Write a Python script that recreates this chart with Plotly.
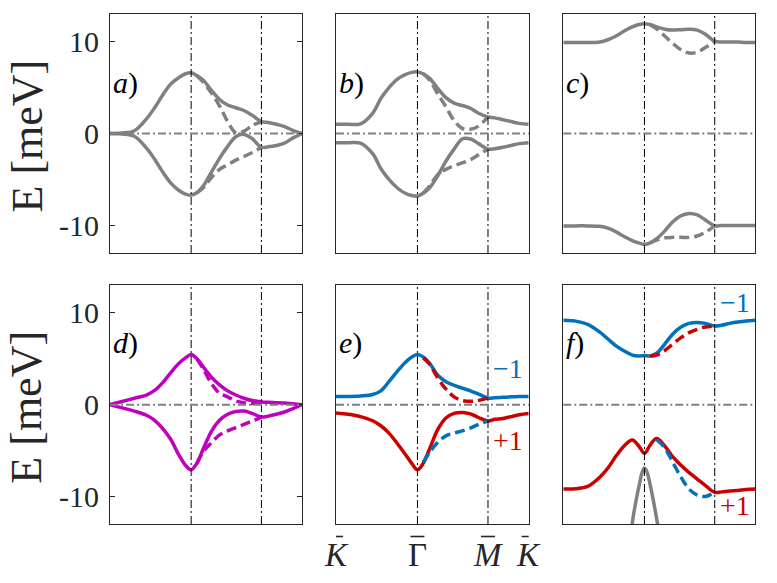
import plotly.graph_objects as go

# path K - Gamma - M - K, in units of |Gamma K|
X_FULL = [0.0, 0.15, 0.3, 0.45, 0.55, 0.65, 0.75, 0.85, 0.93, 1.0, 1.07, 1.15,
          1.25, 1.35, 1.45, 1.55, 1.65, 1.75, 1.866, 1.95, 2.05, 2.15, 2.25, 2.366]
X_GM = [1.07, 1.15, 1.25, 1.35, 1.45, 1.55, 1.65, 1.75, 1.866]
X_PAR = [0.82, 0.86, 0.9, 0.94, 0.97, 1.0, 1.03, 1.06, 1.1, 1.14, 1.18]
HS_X = [0.0, 1.0, 1.866, 2.366]
HS_LABELS = ["<i>K</i>", "Γ", "<i>M</i>", "<i>K</i>"]
Y_TICKS = [-10, 0, 10]
Y_TICKTEXT = ["-10", "0", "10"]

# a)
A_UP = [0, 0.05, 0.3, 1.6, 2.8, 4.2, 5.4, 6.1, 6.5, 6.6, 6.3, 5.8,
        4.7, 3.7, 3.1, 2.8, 2.5, 2.0, 1.3, 1.2, 1.0, 0.75, 0.35, 0]
A_DN = [0, -0.05, -0.3, -1.6, -2.8, -4.2, -5.4, -6.2, -6.6, -6.7, -6.45, -5.7,
        -4.2, -2.7, -1.4, -0.35, -0.1, -0.55, -1.5, -1.45, -1.3, -1.05, -0.5, 0]
A_UPD = [6.3, 5.6, 4.4, 3.0, 1.3, 0.1, 0.25, 0.85, 1.3]
A_DND = [-6.45, -5.9, -4.8, -3.9, -3.4, -2.9, -2.5, -2.1, -1.5]

# b)
B_UP = [1.0, 1.0, 1.05, 2.2, 3.8, 5.0, 5.9, 6.4, 6.65, 6.7, 6.5, 6.0,
        4.9, 3.9, 3.3, 3.05, 2.75, 2.2, 1.8, 1.7, 1.5, 1.3, 1.1, 1.0]
B_DN = [-1.0, -1.0, -1.05, -2.2, -3.8, -5.0, -5.9, -6.5, -6.75, -6.8, -6.5, -5.9,
        -4.6, -3.0, -1.7, -0.6, -0.6, -1.1, -1.7, -1.65, -1.5, -1.3, -1.1, -1.0]
B_UPD = [6.5, 5.8, 4.3, 2.9, 1.4, 0.55, 0.45, 0.8, 1.8]
B_DND = [-6.5, -5.7, -4.45, -3.9, -3.5, -3.2, -2.85, -2.3, -1.7]

# c)
C_UP = [9.9, 9.9, 9.9, 9.95, 10.2, 10.6, 11.15, 11.6, 11.85, 11.95, 11.85, 11.6,
        11.35, 11.25, 11.3, 11.35, 11.25, 10.8, 10.05, 9.95, 9.95, 9.95, 9.9, 9.9]
C_DN = [-10.05, -10.05, -10.05, -10.1, -10.3, -10.7, -11.2, -11.65, -11.9, -12.05, -11.9, -11.45,
        -10.6, -9.6, -8.95, -8.7, -8.85, -9.4, -10.05, -10.0, -10.0, -10.0, -10.0, -10.0]
C_UPD = [11.8, 11.4, 10.6, 9.8, 9.1, 8.75, 8.85, 9.35, 10.05]
C_DND = [-11.9, -11.6, -11.35, -11.3, -11.3, -11.3, -11.15, -10.75, -10.05]

# d)
D_UP = [0, 0.35, 0.7, 1.05, 1.55, 2.4, 3.5, 4.5, 5.1, 5.45, 5.0, 4.1,
        3.0, 2.15, 1.5, 1.05, 0.7, 0.45, 0.3, 0.25, 0.22, 0.18, 0.1, 0]
D_DN = [0, -0.35, -0.7, -1.15, -1.7, -2.6, -3.8, -5.5, -6.6, -7.1, -6.4, -4.8,
        -2.9, -1.7, -1.05, -0.75, -0.7, -0.95, -1.35, -1.25, -1.05, -0.8, -0.45, 0]
D_UPD = [5.0, 3.9, 2.3, 1.25, 0.85, 0.4, 0.2, 0.12, 0.2]
D_DND = [-6.4, -5.1, -4.15, -3.3, -2.85, -2.5, -2.15, -1.8, -1.35]

# e)
E_UP = [0.9, 0.9, 0.95, 1.1, 1.5, 2.5, 3.6, 4.6, 5.2, 5.45, 5.2, 4.5,
        3.2, 2.5, 2.1, 1.8, 1.5, 1.15, 0.72, 0.75, 0.8, 0.85, 0.88, 0.9]
E_DN = [-0.9, -1.05, -1.3, -1.75, -2.3, -3.1, -4.2, -5.4, -6.4, -7.1, -6.4, -4.8,
        -2.7, -1.45, -0.95, -0.85, -1.0, -1.4, -1.77, -1.6, -1.5, -1.3, -1.1, -0.97]
E_UPD = [5.1, 4.4, 2.9, 1.7, 0.85, 0.45, 0.36, 0.45, 0.72]
E_DND = [-6.3, -5.2, -4.1, -3.4, -3.1, -2.85, -2.55, -2.15, -1.77]

# f)
F_UP = [9.2, 9.1, 8.75, 7.9, 7.15, 6.4, 5.85, 5.4, 5.3, 5.35, 5.3, 5.6,
        6.6, 7.7, 8.45, 8.85, 8.95, 8.85, 8.57, 8.65, 8.85, 9.0, 9.1, 9.2]
F_DN = [-9.2, -9.15, -8.9, -7.9, -6.9, -5.6, -4.5, -3.85, -4.5, -5.3, -4.4, -3.7,
        -4.5, -5.7, -6.6, -7.4, -8.1, -8.8, -9.55, -9.5, -9.4, -9.35, -9.25, -9.2]
F_UPD = [5.3, 5.4, 5.9, 6.6, 7.3, 7.85, 8.2, 8.45, 8.57]
F_DND = [None, -3.8, -4.7, -6.3, -7.9, -9.2, -9.85, -10.0, -9.55]
F_PAR = [-15.0, -12.3, -10.3, -8.6, -7.4, -6.9, -7.3, -8.3, -10.0, -11.9, -14.0]

GRAY = "#808080"
MAG = "#BF00BF"
BLUE = "#0072BD"
RED = "#CC0000"
INK = "#262626"
FONT = "Liberation Serif"

panels = [
    ("a", A_UP, A_DN, A_UPD, A_DND, GRAY, GRAY, GRAY, GRAY),
    ("b", B_UP, B_DN, B_UPD, B_DND, GRAY, GRAY, GRAY, GRAY),
    ("c", C_UP, C_DN, C_UPD, C_DND, GRAY, GRAY, GRAY, GRAY),
    ("d", D_UP, D_DN, D_UPD, D_DND, MAG, MAG, MAG, MAG),
    ("e", E_UP, E_DN, E_UPD, E_DND, BLUE, RED, RED, BLUE),
    ("f", F_UP, F_DN, F_UPD, F_DND, BLUE, RED, RED, BLUE),
]

W, H = 777, 583


def px(p):
    return p / W


def py(p):
    return 1 - p / H


col_px = [(110, 302), (336, 528.7), (563.3, 755.3)]
row_px = [(14, 253), (285.3, 524)]

fig = go.Figure()
layout = dict(width=W, height=H, margin=dict(l=0, r=0, t=0, b=0),
              paper_bgcolor="white", plot_bgcolor="white", showlegend=False,
              font=dict(family=FONT, color=INK))

for i, (lab, up, dn, upd, dnd, c_up, c_dn, c_upd, c_dnd) in enumerate(panels):
    r, c = divmod(i, 3)
    s = "" if i == 0 else str(i + 1)
    xa, ya = f"x{s}", f"y{s}"
    x0, x1 = col_px[c]
    y0, y1 = row_px[r]
    layout[f"xaxis{s}"] = dict(domain=[px(x0), px(x1)], range=[HS_X[0], HS_X[-1]],
                               anchor=ya, showgrid=False, zeroline=False,
                               showline=True, mirror=True, linecolor=INK,
                               linewidth=1, ticks="", showticklabels=False)
    yax = dict(domain=[py(y1), py(y0)], range=[-13, 13], anchor=xa,
               showgrid=False, zeroline=False, showline=True, mirror=True,
               linecolor=INK, linewidth=1, ticks="", showticklabels=False)
    if c == 0:
        yax.update(ticks="inside", ticklen=5, tickcolor=INK, mirror="ticks",
                   tickvals=Y_TICKS, ticktext=Y_TICKTEXT, showticklabels=True,
                   tickfont=dict(size=30, family=FONT, color=INK),
                   ticklabelstandoff=4)
    layout[f"yaxis{s}"] = yax

    if lab == "f":
        fig.add_trace(go.Scatter(x=X_PAR, y=F_PAR, mode="lines", xaxis=xa, yaxis=ya,
                                 line=dict(color=GRAY, width=3.5, shape="spline")))
    for ys, col in ((up, c_up), (dn, c_dn)):
        fig.add_trace(go.Scatter(x=X_FULL, y=ys, mode="lines", xaxis=xa, yaxis=ya,
                                 line=dict(color=col, width=3.5, shape="spline")))
    for ys, col in ((upd, c_upd), (dnd, c_dnd)):
        fig.add_trace(go.Scatter(x=X_GM, y=ys, mode="lines", xaxis=xa, yaxis=ya,
                                 line=dict(color=col, width=3.5, shape="spline",
                                           dash="10px,5px")))

    # high-symmetry lines and E = 0
    for xv in HS_X[1:3]:
        fig.add_shape(type="line", xref=xa, yref=f"{ya} domain", x0=xv, x1=xv,
                      y0=0, y1=1, line=dict(color="black", width=1,
                                            dash="8px,3px,2px,3px"))
    fig.add_shape(type="line", xref=f"{xa} domain", yref=ya, x0=0, x1=1, y0=0, y1=0,
                  line=dict(color=GRAY, width=2, dash="8px,3px,2px,3px"))

    fig.add_annotation(xref=f"{xa} domain", yref=f"{ya} domain", x=0.005,
                       y=0.711 if r == 0 else 0.758, xanchor="left", yanchor="middle",
                       text=f"<i>{lab}</i>)", showarrow=False,
                       font=dict(size=30, family=FONT, color="black"))

    if lab in ("e", "f"):
        pos = (3.9, -3.86) if lab == "e" else (11.15, -11.0)
        fig.add_annotation(xref=xa, yref=ya, x=2.113, y=pos[0], text="−1",
                           showarrow=False, font=dict(size=28, family=FONT, color=BLUE))
        fig.add_annotation(xref=xa, yref=ya, x=2.113, y=pos[1], text="+1",
                           showarrow=False, font=dict(size=28, family=FONT, color=RED))

# y labels
for r in range(2):
    yc = (row_px[r][0] + row_px[r][1]) / 2 + 3
    fig.add_annotation(xref="paper", yref="paper", x=px(27), y=py(yc),
                       text="E [meV]", textangle=-90, showarrow=False,
                       xanchor="center", yanchor="middle",
                       font=dict(size=44, family=FONT, color=INK))

# k-path labels under panel e, each with its bar
for xv, t in zip(HS_X, HS_LABELS):
    fig.add_annotation(xref="x5", yref="paper", x=xv, y=py(555), text=t,
                       showarrow=False, xanchor="center", yanchor="middle",
                       font=dict(size=33, family=FONT, color=INK))
    fig.add_shape(type="line", xref="x5", xsizemode="pixel", xanchor=xv,
                  x0=-7, x1=7, yref="paper", y0=py(536.5), y1=py(536.5),
                  line=dict(color=INK, width=1.6))

fig.update_layout(**layout)
# drop the page's default body margin so the figure sits at the window corner
fig.write_html("out.html", config={"displayModeBar": False},
               post_script="document.body.style.margin = '0';")
